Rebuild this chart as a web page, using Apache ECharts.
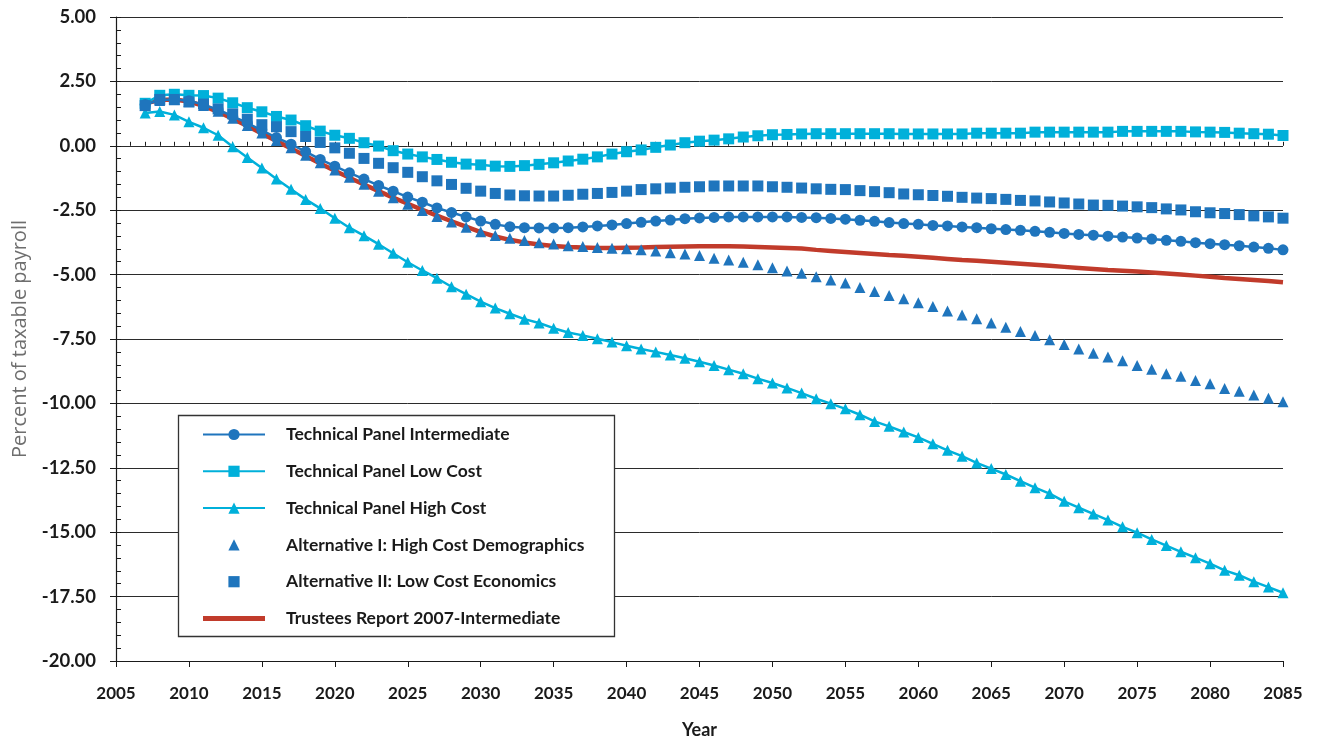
<!DOCTYPE html>
<html>
<head>
<meta charset="utf-8">
<script src="https://cdn.jsdelivr.net/npm/echarts@6/dist/echarts.min.js"></script>
<style>
  html, body { margin: 0; padding: 0; background: #fff; }
  #chart { width: 1325px; height: 740px; }
</style>
</head>
<body>
<div id="chart"></div>
<script>
// Projected balance, percent of taxable payroll, 2007-2085
const firstYear = 2007;
const lastYear = 2085;

const panelIntermediate = [
  1.60, 1.78, 1.80, 1.75, 1.60, 1.40, 1.15, 0.88, 0.60, 0.32,
  0.06, -0.23, -0.53, -0.79, -1.05, -1.29, -1.54, -1.76, -1.99, -2.19,
  -2.41, -2.59, -2.76, -2.92, -3.05, -3.14, -3.18, -3.19, -3.19, -3.18,
  -3.15, -3.11, -3.07, -3.02, -2.97, -2.92, -2.88, -2.83, -2.80, -2.78,
  -2.76, -2.76, -2.76, -2.76, -2.76, -2.78, -2.79, -2.82, -2.85, -2.89,
  -2.93, -2.98, -3.02, -3.05, -3.09, -3.11, -3.15, -3.18, -3.22, -3.25,
  -3.28, -3.32, -3.36, -3.40, -3.44, -3.47, -3.51, -3.54, -3.58, -3.62,
  -3.67, -3.71, -3.76, -3.80, -3.84, -3.88, -3.93, -3.98, -4.04
];

const panelLowCost = [
  1.65, 1.96, 2.00, 1.96, 1.95, 1.85, 1.67, 1.48, 1.32, 1.14,
  1.00, 0.78, 0.57, 0.41, 0.29, 0.12, -0.01, -0.19, -0.32, -0.43,
  -0.53, -0.64, -0.71, -0.74, -0.79, -0.80, -0.77, -0.72, -0.66, -0.59,
  -0.52, -0.43, -0.32, -0.23, -0.16, -0.06, 0.03, 0.12, 0.18, 0.22,
  0.27, 0.34, 0.39, 0.43, 0.44, 0.46, 0.47, 0.47, 0.47, 0.47,
  0.47, 0.47, 0.46, 0.46, 0.46, 0.46, 0.46, 0.49, 0.49, 0.49,
  0.49, 0.53, 0.53, 0.53, 0.53, 0.53, 0.53, 0.56, 0.56, 0.56,
  0.56, 0.56, 0.54, 0.53, 0.52, 0.49, 0.47, 0.45, 0.40
];

const panelHighCost = [
  1.27, 1.33, 1.20, 0.93, 0.70, 0.41, -0.04, -0.45, -0.86, -1.29,
  -1.69, -2.08, -2.43, -2.81, -3.18, -3.49, -3.82, -4.17, -4.52, -4.84,
  -5.14, -5.47, -5.76, -6.05, -6.30, -6.52, -6.73, -6.88, -7.08, -7.25,
  -7.36, -7.49, -7.62, -7.76, -7.89, -8.00, -8.12, -8.25, -8.38, -8.53,
  -8.69, -8.85, -9.04, -9.21, -9.40, -9.60, -9.82, -10.01, -10.21, -10.44,
  -10.70, -10.89, -11.11, -11.32, -11.57, -11.82, -12.05, -12.31, -12.53, -12.76,
  -13.02, -13.27, -13.50, -13.80, -14.05, -14.29, -14.53, -14.79, -15.02, -15.28,
  -15.52, -15.76, -15.99, -16.22, -16.48, -16.67, -16.92, -17.13, -17.35
];

const altHighCostDemographics = [
  1.58, 1.76, 1.79, 1.72, 1.56, 1.34, 1.07, 0.79, 0.50, 0.21,
  -0.08, -0.37, -0.66, -0.94, -1.22, -1.49, -1.76, -2.02, -2.27, -2.51,
  -2.74, -2.96, -3.16, -3.34, -3.48, -3.59, -3.68, -3.76, -3.81, -3.88,
  -3.91, -3.95, -3.98, -4.00, -4.04, -4.08, -4.15, -4.20, -4.26, -4.37,
  -4.43, -4.52, -4.62, -4.73, -4.86, -4.95, -5.08, -5.21, -5.33, -5.50,
  -5.66, -5.81, -5.94, -6.09, -6.24, -6.41, -6.57, -6.71, -6.88, -7.04,
  -7.21, -7.36, -7.53, -7.71, -7.89, -8.05, -8.20, -8.34, -8.53, -8.67,
  -8.85, -8.95, -9.11, -9.24, -9.42, -9.53, -9.67, -9.80, -9.94
];

const altLowCostEconomics = [
  1.56, 1.80, 1.80, 1.70, 1.62, 1.43, 1.24, 1.03, 0.82, 0.74,
  0.55, 0.36, 0.13, -0.08, -0.29, -0.49, -0.68, -0.85, -1.03, -1.20,
  -1.36, -1.50, -1.65, -1.76, -1.85, -1.91, -1.94, -1.95, -1.95, -1.92,
  -1.88, -1.85, -1.81, -1.76, -1.70, -1.67, -1.64, -1.61, -1.59, -1.56,
  -1.56, -1.56, -1.56, -1.59, -1.61, -1.64, -1.67, -1.69, -1.70, -1.74,
  -1.78, -1.82, -1.87, -1.90, -1.93, -1.96, -2.00, -2.03, -2.05, -2.08,
  -2.12, -2.14, -2.18, -2.22, -2.26, -2.30, -2.31, -2.34, -2.37, -2.40,
  -2.45, -2.49, -2.56, -2.60, -2.63, -2.67, -2.72, -2.76, -2.81
];

const trustees2007 = [
  1.65, 1.78, 1.80, 1.72, 1.55, 1.32, 1.05, 0.77, 0.48, 0.19,
  -0.10, -0.40, -0.69, -0.97, -1.24, -1.50, -1.76, -2.01, -2.25, -2.49,
  -2.71, -2.93, -3.14, -3.35, -3.52, -3.65, -3.75, -3.83, -3.89, -3.93,
  -3.95, -3.97, -3.97, -3.96, -3.95, -3.93, -3.92, -3.91, -3.90, -3.90,
  -3.90, -3.91, -3.93, -3.95, -3.97, -3.99, -4.04, -4.08, -4.12, -4.16,
  -4.20, -4.24, -4.27, -4.31, -4.35, -4.39, -4.43, -4.46, -4.50, -4.54,
  -4.58, -4.62, -4.66, -4.70, -4.74, -4.78, -4.82, -4.85, -4.88, -4.92,
  -4.96, -5.00, -5.04, -5.08, -5.13, -5.17, -5.21, -5.25, -5.30
];

const seriesNames = [
  'Technical Panel Intermediate',
  'Technical Panel Low Cost',
  'Technical Panel High Cost',
  'Alternative I: High Cost Demographics',
  'Alternative II: Low Cost Economics',
  'Trustees Report 2007-Intermediate'
];

const DARK_BLUE = '#1f75bd';
const CYAN = '#00b0da';
const RED = '#c13b2b';

const years = [];
for (let y = firstYear; y <= lastYear; y++) years.push(y);
const pairs = vals => years.map((y, i) => [y, vals[i]]);

const xLabelFont = { fontFamily: 'Lato', fontWeight: 'bold', fontSize: 17, color: '#1a1a1a' };
const yLabelFont = { fontFamily: 'Lato', fontWeight: 'bold', fontSize: 18.5, color: '#1a1a1a' };

const chart = echarts.init(document.getElementById('chart'), null, { renderer: 'canvas' });

chart.setOption({
  animation: false,
  backgroundColor: '#ffffff',
  grid: { left: 116, right: 42, top: 17, bottom: 79, containLabel: false, outerBoundsMode: 'none' },
  xAxis: [
    {
      type: 'value', min: 2005, max: 2085, interval: 5,
      name: 'Year', nameLocation: 'middle', nameGap: 60,
      nameTextStyle: { fontFamily: 'Lato', fontWeight: 'bold', fontSize: 18, color: '#1a1a1a' },
      axisLine: { show: true, onZero: false, lineStyle: { color: '#1a1a1a', width: 1.2 } },
      axisTick: { show: true, length: 6, lineStyle: { color: '#1a1a1a' } },
      axisLabel: Object.assign({ margin: 24, formatter: v => String(v) }, xLabelFont),
      splitLine: { show: false }
    },
    {
      // yearly minor ticks pointing into the plot
      type: 'value', min: 2005, max: 2085, interval: 1, position: 'bottom',
      axisLine: { show: false },
      axisTick: { show: true, inside: true, length: 4, lineStyle: { color: '#1a1a1a' } },
      axisLabel: { show: false },
      splitLine: { show: false }
    }
  ],
  yAxis: [
    {
      type: 'value', min: -20, max: 5, interval: 2.5,
      name: 'Percent of taxable payroll', nameLocation: 'middle', nameGap: 86,
      nameTextStyle: { fontFamily: 'Open Sans', fontSize: 20, color: '#6e6e6e' },
      axisLine: { show: true, lineStyle: { color: '#1a1a1a', width: 1.2 } },
      axisTick: { show: true, length: 6, lineStyle: { color: '#1a1a1a' } },
      axisLabel: Object.assign({ margin: 20, formatter: v => v.toFixed(2) }, yLabelFont),
      splitLine: { show: true, lineStyle: { color: '#2b2b2b', width: 1 } }
    },
    {
      // half-point minor ticks pointing into the plot
      type: 'value', min: -20, max: 5, interval: 0.5, position: 'left',
      axisLine: { show: false },
      axisTick: { show: true, inside: true, length: 5, lineStyle: { color: '#1a1a1a' } },
      axisLabel: { show: false },
      splitLine: { show: false }
    }
  ],
  legend: {
    orient: 'vertical',
    left: 202, top: 425.5,
    padding: 0,
    itemWidth: 62, itemHeight: 14, itemGap: 18.8,
    z: 6,
    textStyle: { fontFamily: 'Lato', fontWeight: 'bold', fontSize: 17.5, color: '#1a1a1a', padding: [0, 0, 0, 16] },
    data: seriesNames.map(n => n === seriesNames[5]
      ? { name: n, icon: 'path://M0,0L62,0L62,5L0,5Z' }
      : { name: n })
  },
  graphic: [
    {
      type: 'rect', z: 5,
      shape: { x: 178.5, y: 415.5, width: 436, height: 221 },
      style: { fill: '#ffffff', stroke: '#333333', lineWidth: 1.3 }
    }
  ],
  series: [
    {
      name: seriesNames[5], type: 'line', data: pairs(trustees2007),
      symbol: 'none', smooth: false,
      lineStyle: { color: RED, width: 4.5 }, itemStyle: { color: RED }, z: 2
    },
    {
      name: seriesNames[1], type: 'line', data: pairs(panelLowCost),
      symbol: 'rect', symbolSize: 11,
      lineStyle: { color: CYAN, width: 2.5 }, itemStyle: { color: CYAN }, z: 3
    },
    {
      name: seriesNames[2], type: 'line', data: pairs(panelHighCost),
      symbol: 'triangle', symbolSize: 11,
      lineStyle: { color: CYAN, width: 2.5 }, itemStyle: { color: CYAN }, z: 3
    },
    {
      name: seriesNames[0], type: 'line', data: pairs(panelIntermediate),
      symbol: 'circle', symbolSize: 11,
      lineStyle: { color: DARK_BLUE, width: 2.5 }, itemStyle: { color: DARK_BLUE }, z: 3
    },
    {
      name: seriesNames[3], type: 'line', data: pairs(altHighCostDemographics),
      symbol: 'triangle', symbolSize: 11,
      lineStyle: { color: DARK_BLUE, width: 0, opacity: 0 }, itemStyle: { color: DARK_BLUE }, z: 4
    },
    {
      name: seriesNames[4], type: 'line', data: pairs(altLowCostEconomics),
      symbol: 'rect', symbolSize: 11,
      lineStyle: { color: DARK_BLUE, width: 0, opacity: 0 }, itemStyle: { color: DARK_BLUE }, z: 4
    }
  ]
});
</script>
</body>
</html>
